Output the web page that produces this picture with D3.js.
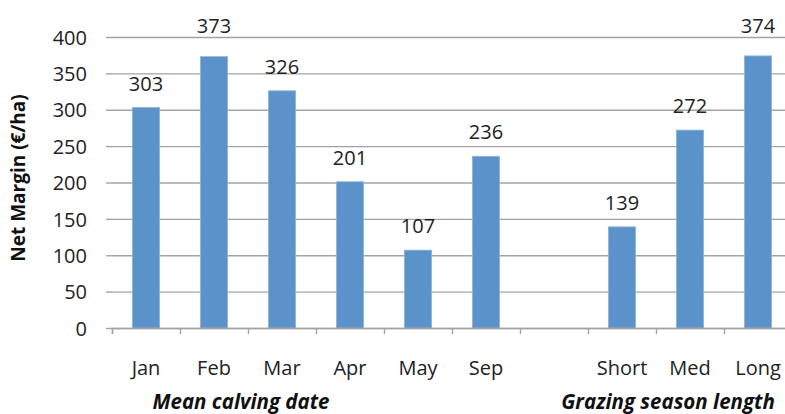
<!DOCTYPE html>
<html>
<head>
<meta charset="utf-8">
<script src="https://cdn.jsdelivr.net/npm/d3@7"></script>
<style>
  body { margin: 0; background: #fff; overflow: hidden; }
  svg { display: block; font-family: "Open Sans", Lato, sans-serif; }
  .grid line { stroke: #a3a3a3; stroke-width: 1.4; }
  .grid path { display: none; }
  .ticks text { fill: #222; font-size: 20px; font-family: "Open Sans", sans-serif; }
</style>
</head>
<body>
<script>
// Chart data
const categories = ['Jan', 'Feb', 'Mar', 'Apr', 'May', 'Sep', ' ', 'Short', 'Med', 'Long'];
const netMargin = [303, 373, 326, 201, 107, 236, null, 139, 272, 374];
const yTicks = [0, 50, 100, 150, 200, 250, 300, 350, 400];
const groupTitles = ['Mean calving date', 'Grazing season length'];

const width = 785, height = 414;
// plot area runs a little past the right edge, like the original
const plot = {left: 112, right: 792, top: 37, bottom: 328};

const svg = d3.select('body').append('svg')
    .attr('width', width)
    .attr('height', height);

const x = d3.scaleBand()
    .domain(categories)
    .range([plot.left, plot.right])
    .paddingInner(0.6)
    .paddingOuter(0.3);

// boundaries between categories (for the tick marks)
const edge = d3.scaleLinear()
    .domain([0, categories.length])
    .range([plot.left, plot.right]);

const y = d3.scaleLinear()
    .domain([0, 400])
    .range([plot.bottom, plot.top]);

// Horizontal gridlines + y labels
svg.append('g')
    .attr('class', 'grid ticks')
    .attr('transform', `translate(${plot.left},0)`)
    .call(d3.axisLeft(y)
      .tickValues(yTicks)
      .tickSize(-(plot.right - plot.left))
      .tickPadding(0))
  .call(g => g.selectAll('text').attr('x', -25).attr('dy', '0.36em'))
  .call(g => g.selectAll('.tick').append('line')
      .attr('x1', -6).attr('x2', 0)
      .attr('stroke', '#a3a3a3').attr('stroke-width', 1.4));

const barData = netMargin.map((v, i) => ({cat: categories[i], v})).filter(d => d.v !== null);

// Bars
svg.append('g')
  .selectAll('rect')
  .data(barData)
  .join('rect')
    .attr('x', d => x(d.cat))
    .attr('width', x.bandwidth())
    .attr('y', d => y(d.v))
    .attr('height', d => y(0) - y(d.v))
    .attr('fill', '#5b92c9')
    .attr('stroke', '#8db3da')
    .attr('stroke-width', 0.8);

// Value labels - the ones that would sit on the top gridline go above it
svg.append('g')
  .selectAll('text')
  .data(barData)
  .join('text')
    .attr('x', d => x(d.cat) + x.bandwidth() / 2)
    .attr('y', d => {
      let pos = y(d.v) - 17;
      return pos < y(400) + 10 ? y(400) - 4 : pos;
    })
    .attr('text-anchor', 'middle')
    .attr('font-size', 20)
    .attr('fill', '#222')
    .text(d => d.v);

// x axis line, boundary ticks and category labels
svg.append('g')
    .attr('transform', `translate(0,${plot.bottom})`)
    .call(d3.axisBottom(edge).ticks(categories.length).tickFormat('').tickSize(6).tickSizeOuter(6))
  .call(g => g.selectAll('line, path').attr('stroke', '#a3a3a3').attr('stroke-width', 1.4));

svg.append('g')
    .attr('class', 'ticks')
    .attr('transform', `translate(0,${plot.bottom})`)
    .call(d3.axisBottom(x).tickSize(0).tickPadding(33))
  .call(g => g.select('.domain').remove());

// Group titles under the axis
const groupX = [241, 668];
svg.selectAll('.group-title')
  .data(groupTitles)
  .join('text')
    .attr('class', 'group-title')
    .attr('x', (d, i) => groupX[i])
    .attr('y', 409)
    .attr('text-anchor', 'middle')
    .attr('font-size', 20.5)
    .attr('font-weight', 'bold')
    .attr('font-style', 'italic')
    .attr('fill', '#111')
    .text(d => d);

// Y axis title
svg.append('text')
    .attr('transform', `translate(25,${178}) rotate(-90)`)
    .attr('text-anchor', 'middle')
    .attr('font-size', 19)
    .attr('font-weight', 'bold')
    .attr('fill', '#111')
    .text('Net Margin (€/ha)');
</script>
</body>
</html>
